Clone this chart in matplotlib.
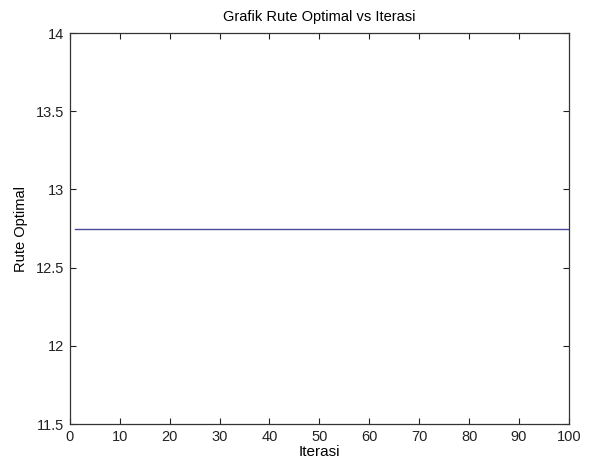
import matplotlib.pyplot as plt

# nilai rute optimal tiap iterasi (konstan)
iterasi = list(range(1, 101))
rute = [
    12.745, 12.745, 12.745, 12.745, 12.745, 12.745, 12.745, 12.745, 12.745, 12.745,
    12.745, 12.745, 12.745, 12.745, 12.745, 12.745, 12.745, 12.745, 12.745, 12.745,
    12.745, 12.745, 12.745, 12.745, 12.745, 12.745, 12.745, 12.745, 12.745, 12.745,
    12.745, 12.745, 12.745, 12.745, 12.745, 12.745, 12.745, 12.745, 12.745, 12.745,
    12.745, 12.745, 12.745, 12.745, 12.745, 12.745, 12.745, 12.745, 12.745, 12.745,
    12.745, 12.745, 12.745, 12.745, 12.745, 12.745, 12.745, 12.745, 12.745, 12.745,
    12.745, 12.745, 12.745, 12.745, 12.745, 12.745, 12.745, 12.745, 12.745, 12.745,
    12.745, 12.745, 12.745, 12.745, 12.745, 12.745, 12.745, 12.745, 12.745, 12.745,
    12.745, 12.745, 12.745, 12.745, 12.745, 12.745, 12.745, 12.745, 12.745, 12.745,
    12.745, 12.745, 12.745, 12.745, 12.745, 12.745, 12.745, 12.745, 12.745, 12.745,
]
xticks = [0, 10, 20, 30, 40, 50, 60, 70, 80, 90, 100]
yticks = [11.5, 12, 12.5, 13, 13.5, 14]

plt.rcParams['font.family'] = ['Liberation Sans', 'DejaVu Sans']
plt.rcParams['font.size'] = 10.5

fig = plt.figure(figsize=(5.92, 4.65), dpi=100)
ax = fig.add_axes([0.118, 0.088, 0.843, 0.841])

ax.plot(iterasi, rute, color='#4a4a9c', linewidth=1.0)

ax.set_xlim(0, 100)
ax.set_ylim(11.5, 14)
ax.set_xticks(xticks)
ax.set_yticks(yticks)
ax.set_yticklabels(['11.5', '12', '12.5', '13', '13.5', '14'])
ax.tick_params(direction='in', top=True, right=True, length=4, width=0.8, pad=4, colors='#222222')
for s in ax.spines.values():
    s.set_linewidth(0.9)
    s.set_color('#333333')

ax.set_title('Grafik Rute Optimal vs Iterasi', fontsize=10.5, pad=9)
ax.set_xlabel('Iterasi', fontsize=11, labelpad=1)
ax.set_ylabel('Rute Optimal', fontsize=10.5, labelpad=6)

fig.savefig('out.png', dpi=100)
